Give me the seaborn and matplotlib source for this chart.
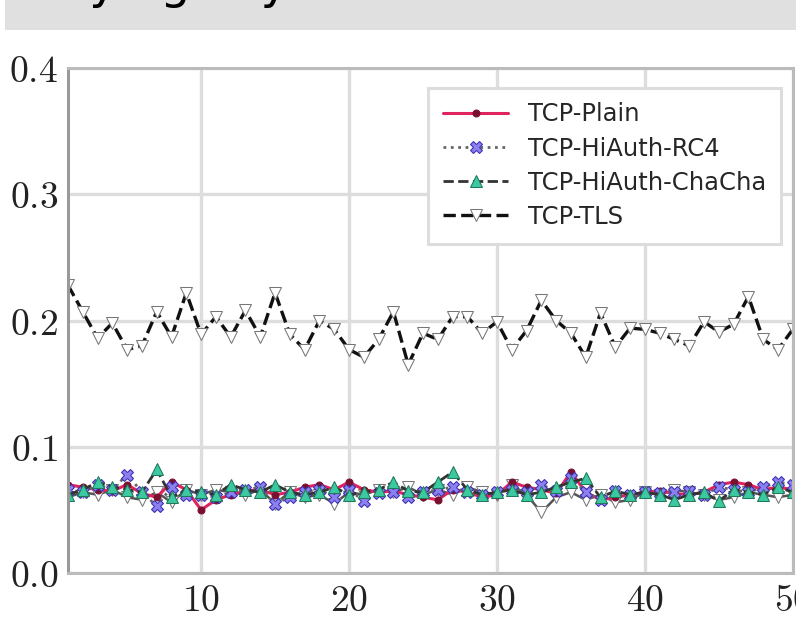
import matplotlib
matplotlib.use("Agg")
import matplotlib.pyplot as plt
import matplotlib.ticker as mticker
from matplotlib.patches import Rectangle
import seaborn as sns

# Data
runs = list(range(1, 51))

tcp_plain = [0.070, 0.068, 0.066, 0.065, 0.070, 0.063, 0.060, 0.072, 0.066, 0.050,
             0.058, 0.062, 0.065, 0.066, 0.062, 0.064, 0.068, 0.070, 0.066, 0.072,
             0.066, 0.064, 0.065, 0.062, 0.060, 0.058, 0.066, 0.064, 0.060, 0.062,
             0.072, 0.068, 0.066, 0.063, 0.080, 0.064, 0.058, 0.060, 0.062, 0.064,
             0.065, 0.063, 0.062, 0.064, 0.070, 0.072, 0.070, 0.066, 0.068, 0.066]

tcp_rc4 = [0.066, 0.064, 0.070, 0.066, 0.078, 0.064, 0.053, 0.068, 0.062, 0.062,
           0.060, 0.064, 0.066, 0.068, 0.055, 0.060, 0.064, 0.066, 0.060, 0.066,
           0.057, 0.063, 0.064, 0.060, 0.064, 0.066, 0.068, 0.064, 0.062, 0.064,
           0.066, 0.064, 0.070, 0.065, 0.075, 0.064, 0.058, 0.065, 0.062, 0.064,
           0.063, 0.064, 0.065, 0.062, 0.068, 0.066, 0.064, 0.068, 0.072, 0.070]

tcp_chacha = [0.062, 0.066, 0.072, 0.068, 0.066, 0.064, 0.082, 0.060, 0.066, 0.064,
              0.062, 0.070, 0.066, 0.064, 0.070, 0.064, 0.062, 0.064, 0.068, 0.062,
              0.064, 0.066, 0.072, 0.065, 0.064, 0.072, 0.080, 0.066, 0.062, 0.064,
              0.066, 0.062, 0.064, 0.068, 0.072, 0.075, 0.060, 0.065, 0.062, 0.064,
              0.062, 0.058, 0.062, 0.064, 0.057, 0.066, 0.064, 0.062, 0.068, 0.064]

tcp_tls = [0.228, 0.207, 0.186, 0.198, 0.177, 0.180, 0.207, 0.187, 0.222, 0.189,
           0.203, 0.187, 0.208, 0.187, 0.222, 0.189, 0.177, 0.200, 0.193, 0.177,
           0.171, 0.185, 0.207, 0.165, 0.190, 0.185, 0.203, 0.203, 0.190, 0.199,
           0.177, 0.192, 0.216, 0.200, 0.190, 0.171, 0.206, 0.179, 0.194, 0.193,
           0.190, 0.185, 0.180, 0.199, 0.191, 0.197, 0.219, 0.185, 0.177, 0.193]

# gray open-triangle trace in the lower band (no legend entry visible)
lower_gray = [0.060, 0.064, 0.062, 0.066, 0.060, 0.058, 0.064, 0.056, 0.066, 0.062,
              0.066, 0.064, 0.062, 0.066, 0.055, 0.064, 0.060, 0.062, 0.055, 0.064,
              0.062, 0.066, 0.064, 0.068, 0.062, 0.066, 0.062, 0.068, 0.064, 0.062,
              0.070, 0.062, 0.048, 0.060, 0.064, 0.058, 0.062, 0.056, 0.058, 0.064,
              0.062, 0.066, 0.064, 0.062, 0.058, 0.060, 0.064, 0.062, 0.060, 0.062]

y_ticks = [0.0, 0.1, 0.2, 0.3, 0.4]
x_ticks = [10, 20, 30, 40, 50]

sns.set_theme(style="whitegrid")
plt.rcParams["font.family"] = ["DejaVu Sans"]
plt.rcParams["mathtext.fontset"] = "cm"

fig = plt.figure(figsize=(7.96, 6.27), dpi=100)
ax = fig.add_axes([0.0854, 0.0861, 0.9106, 0.8054])

# title strip, mostly cut off at the top edge
fig.patches.append(Rectangle((5 / 796, 1 - 30 / 627), 1, 30 / 627,
                             transform=fig.transFigure, facecolor="#e0e0e0",
                             edgecolor="none", zorder=0))
fig.text(12 / 796, 1 + 2 / 627, "Varying Payload Size", fontsize=34,
         color="black", va="baseline", ha="left")

sns.lineplot(x=runs, y=lower_gray, ax=ax, color="#555555", linestyle="-",
             linewidth=1.8, marker="v", markersize=8, markerfacecolor="white",
             markeredgecolor="#777777", label="_nolegend_")
sns.lineplot(x=runs, y=tcp_plain, ax=ax, color="#e0245e", linestyle="-",
             linewidth=2.2, marker="o", markersize=5, markerfacecolor="#7a1030",
             markeredgecolor="#7a1030", label="TCP-Plain")
sns.lineplot(x=runs, y=tcp_rc4, ax=ax, color="#666666", linestyle=":",
             linewidth=2.0, marker="X", markersize=8, markerfacecolor="#8c7ff0",
             markeredgecolor="#3a2fb0", label="TCP-HiAuth-RC4")
sns.lineplot(x=runs, y=tcp_chacha, ax=ax, color="#333333", linestyle="--",
             linewidth=2.0, marker="^", markersize=8, markerfacecolor="#3cc8a0",
             markeredgecolor="#1e7a5a", label="TCP-HiAuth-ChaCha")
sns.lineplot(x=runs, y=tcp_tls, ax=ax, color="#111111", linestyle="--",
             linewidth=2.4, marker="v", markersize=9, markerfacecolor="white",
             markeredgecolor="#777777", label="TCP-TLS")

ax.set_xlim(1, 50)
ax.set_ylim(0.0, 0.4)
ax.set_xticks(x_ticks)
ax.set_yticks(y_ticks)
ax.xaxis.set_major_formatter(mticker.FuncFormatter(lambda v, p: f"${v:.0f}$"))
ax.yaxis.set_major_formatter(mticker.FuncFormatter(lambda v, p: f"${v:.1f}$"))
ax.tick_params(axis="both", labelsize=27, colors="#222222", length=4,
               direction="out", width=1.5)
ax.tick_params(axis="both", color="#999999")
ax.tick_params(axis="y", pad=3)
ax.set_xlabel("")
ax.set_ylabel("")

ax.grid(True, color="#dddddd", linewidth=2.4)
ax.set_axisbelow(True)
for side in ["left", "bottom", "right", "top"]:
    ax.spines[side].set_visible(True)
    ax.spines[side].set_color("#bbbbbb")
    ax.spines[side].set_linewidth(2.2)
ax.spines["left"].set_color("#999999")

leg = ax.legend(loc="upper right", bbox_to_anchor=(1.0, 0.985), fontsize=17.5,
                frameon=True, fancybox=False, handlelength=2.7,
                borderpad=0.6, labelspacing=0.42)
leg.get_frame().set_edgecolor("#dddddd")
leg.get_frame().set_linewidth(2.2)
leg.get_frame().set_facecolor("white")
leg.get_frame().set_alpha(1.0)

fig.savefig("out.png", dpi=100)
